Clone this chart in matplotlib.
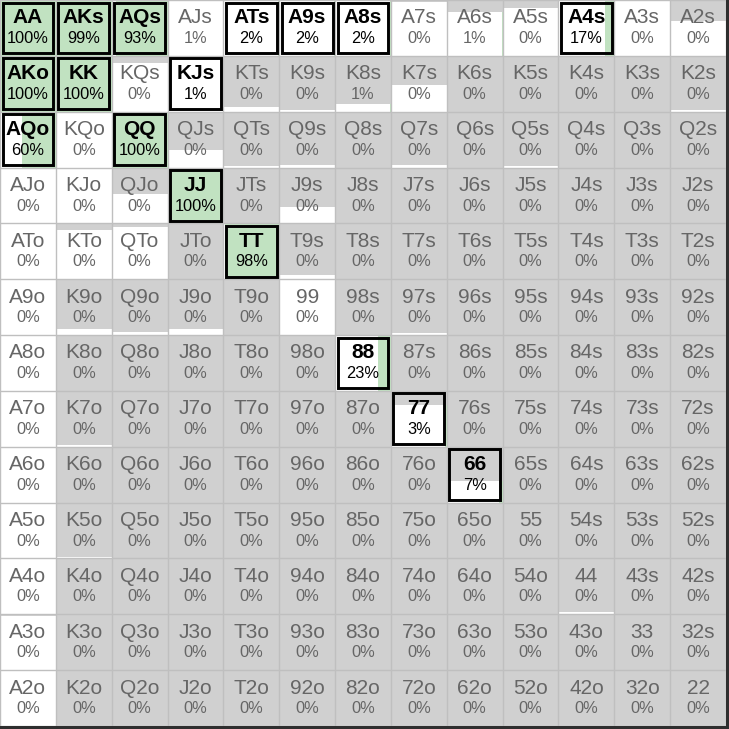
import matplotlib
matplotlib.use("Agg")
import matplotlib.pyplot as plt
from matplotlib.patches import Rectangle

plt.rcParams['font.family'] = ['Liberation Sans', 'DejaVu Sans']

ranks = ['A', 'K', 'Q', 'J', 'T', '9', '8', '7', '6', '5', '4', '3', '2']

# shown frequency (%) per cell, row = first rank, col = second rank
freq = [
    [100, 99, 93, 1, 2, 2, 2, 0, 1, 0, 17, 0, 0],
    [100, 100, 0, 1, 0, 0, 1, 0, 0, 0, 0, 0, 0],
    [60, 0, 100, 0, 0, 0, 0, 0, 0, 0, 0, 0, 0],
    [0, 0, 0, 100, 0, 0, 0, 0, 0, 0, 0, 0, 0],
    [0, 0, 0, 0, 98, 0, 0, 0, 0, 0, 0, 0, 0],
    [0, 0, 0, 0, 0, 0, 0, 0, 0, 0, 0, 0, 0],
    [0, 0, 0, 0, 0, 0, 23, 0, 0, 0, 0, 0, 0],
    [0, 0, 0, 0, 0, 0, 0, 3, 0, 0, 0, 0, 0],
    [0, 0, 0, 0, 0, 0, 0, 0, 7, 0, 0, 0, 0],
    [0, 0, 0, 0, 0, 0, 0, 0, 0, 0, 0, 0, 0],
    [0, 0, 0, 0, 0, 0, 0, 0, 0, 0, 0, 0, 0],
    [0, 0, 0, 0, 0, 0, 0, 0, 0, 0, 0, 0, 0],
    [0, 0, 0, 0, 0, 0, 0, 0, 0, 0, 0, 0, 0],
]

# share of combos still in range (height of the white bar)
weight = [
    [1, 1, 1, 1, 1, 1, 1, 0.96, 0.79, 0.85, 1, 1, 0.62],
    [1, 1, 0.87, 1, 0.09, 0.03, 0.14, 0.48, 0, 0, 0, 0, 0.03],
    [1, 1, 1, 0.31, 0.03, 0.04, 0, 0.04, 0, 0.03, 0, 0, 0],
    [1, 1, 0.52, 1, 0, 0.30, 0, 0, 0, 0, 0, 0, 0],
    [1, 0.88, 0.93, 0, 1, 0.08, 0, 0, 0, 0, 0, 0, 0],
    [1, 0.10, 0.05, 0.10, 0, 1, 0, 0.04, 0, 0, 0, 0, 0],
    [1, 0, 0, 0, 0, 0, 1, 0, 0, 0, 0, 0, 0],
    [1, 0.04, 0, 0, 0, 0, 0, 0.74, 0, 0, 0, 0, 0],
    [1, 0, 0, 0, 0, 0, 0, 0, 0.38, 0, 0, 0, 0],
    [1, 0.03, 0, 0, 0, 0, 0, 0, 0, 0, 0, 0, 0],
    [1, 0, 0, 0, 0, 0, 0, 0, 0, 0, 0.04, 0, 0],
    [0.97, 0, 0, 0, 0, 0, 0, 0, 0, 0, 0, 0, 0],
    [1, 0, 0, 0, 0, 0, 0, 0, 0, 0, 0, 0, 0],
]

# highlighted hands
bold = ['AA', 'AKs', 'AQs', 'ATs', 'A9s', 'A8s', 'A4s', 'AKo', 'KK', 'KJs',
        'AQo', 'QQ', 'JJ', 'TT', '88', '77', '66']

GREY = '#d0d0d0'
GREEN = '#c1e2c1'
LINE = '#bfbfbf'


def hand_name(r, c):
    if r == c:
        return ranks[r] + ranks[c]
    if c > r:
        return ranks[r] + ranks[c] + 's'
    return ranks[c] + ranks[r] + 'o'


fig = plt.figure(figsize=(7.29, 7.29), dpi=100, facecolor='#2e2e2e')
ax = fig.add_axes([0, 3 / 729, 726 / 729, 726 / 729])
ax.set_xlim(0, 13)
ax.set_ylim(13, 0)
ax.axis('off')

n = len(ranks)
for r in range(n):
    for c in range(n):
        name = hand_name(r, c)
        h = weight[r][c]
        f = freq[r][c] / 100
        ax.add_patch(Rectangle((c, r), 1, 1, facecolor=GREY, edgecolor='none'))
        if h > 0:
            ax.add_patch(Rectangle((c, r + 1 - h), 1, h, facecolor='white', edgecolor='none'))
            if f > 0:
                ax.add_patch(Rectangle((c + 1 - f, r + 1 - h), f, h,
                                       facecolor=GREEN, edgecolor='none'))
        is_bold = name in bold
        col = 'black' if is_bold else '#666666'
        ax.text(c + 0.5, r + 0.32, name, ha='center', va='center', fontsize=15,
                color=col, fontweight='bold' if is_bold else 'normal')
        ax.text(c + 0.5, r + 0.69, '%d%%' % freq[r][c], ha='center', va='center',
                fontsize=11.8, color=col)

# grid lines between cells
for k in range(n + 1):
    ax.axhline(k, color=LINE, lw=1, zorder=3)
    ax.axvline(k, color=LINE, lw=1, zorder=3)

# black frames around highlighted hands
for r in range(n):
    for c in range(n):
        if hand_name(r, c) in bold:
            d = 0.045
            ax.add_patch(Rectangle((c + d, r + d), 1 - 2 * d, 1 - 2 * d, fill=False,
                                   edgecolor='black', lw=2.1, zorder=4))

fig.savefig('out.png', dpi=100, facecolor=fig.get_facecolor())
